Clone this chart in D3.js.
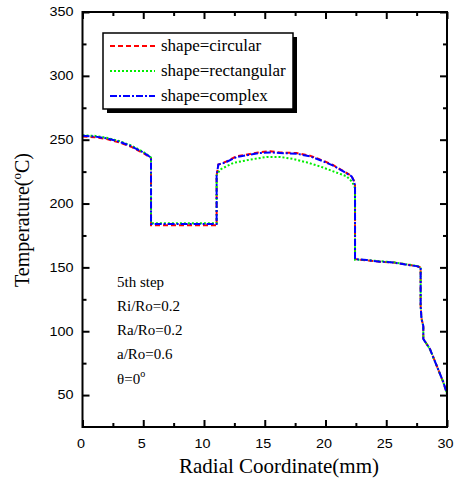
<!DOCTYPE html>
<html><head><meta charset="utf-8">
<script src="https://cdn.jsdelivr.net/npm/d3@7"></script>
<style>body{margin:0;background:#fff}svg{display:block}</style>
</head><body>
<script>
// ---- data ----
const xCircular = [0, 1, 2, 3, 4, 5, 5.64, 5.64, 8, 11.04, 11.04, 11.18, 11.73, 12.69, 13.79, 14.47, 15.43, 16.25, 17.63, 18.72, 19.82, 20.64, 21.47, 22.15, 22.35, 22.43, 22.43, 23.39, 24.49, 25.58, 26.95, 27.5, 27.83, 27.83, 27.9, 28.05, 28.05, 28.6, 29.15, 29.7, 30];
const yCircular = [252.5, 252, 250.5, 248, 244.5, 239.5, 235.5, 183, 183, 183, 222, 230.5, 232.5, 237, 238.8, 240, 241, 240, 239.5, 237.5, 233.5, 230, 225.5, 221.5, 217.5, 214, 156.5, 155.5, 154.5, 153.8, 151.8, 151, 150, 120, 110, 104, 94, 86, 73, 60, 51];
const xRectangular = [0, 1, 2, 3, 4, 5, 5.64, 5.64, 8, 11.04, 11.04, 11.32, 12.41, 13.79, 15.16, 16.25, 17.35, 18.44, 19.55, 20.64, 21.74, 22.2, 22.43, 22.43, 23.39, 24.49, 25.58, 26.95, 27.5, 27.83, 27.83, 27.9, 28.05, 28.05, 28.6, 29.15, 29.7, 30];
const yRectangular = [253.5, 253, 251.5, 249, 245.5, 240.5, 236, 184.5, 184.5, 184.5, 222, 226.6, 231.8, 234.4, 236.5, 236.5, 234.9, 232.3, 229.1, 225.2, 221.3, 217, 212, 156, 155.8, 154.8, 154, 152, 151.2, 150.2, 120, 110, 104, 94, 86, 73, 60, 51];
const xComplex = [0, 1, 2, 3, 4, 5, 5.64, 5.64, 8, 11.04, 11.04, 11.18, 11.73, 12.69, 13.79, 14.47, 15.43, 16.25, 17.63, 18.72, 19.82, 20.64, 21.47, 22.15, 22.35, 22.43, 22.43, 23.39, 24.49, 25.58, 26.95, 27.5, 27.83, 27.83, 27.9, 28.05, 28.05, 28.6, 29.15, 29.7, 30];
const yComplex = [253, 252.5, 251, 248.5, 245, 240, 236, 184, 184, 184, 222, 230.5, 232, 236.5, 238.3, 239.5, 240, 239.6, 239, 237, 233, 229.7, 225.2, 221.3, 217.4, 214, 156.5, 155.7, 154.5, 153.8, 151.6, 151, 150, 120, 110, 104, 94, 86, 73, 60, 51];
const seriesNames = ["shape=circular", "shape=rectangular", "shape=complex"];
const seriesColors = ["#ff0000", "#00ee00", "#0000ff"];
const xMajorTicks = [0, 5, 10, 15, 20, 25, 30];
const xMinorTicks = [2.5, 7.5, 12.5, 17.5, 22.5, 27.5];
const yMajorTicks = [50, 100, 150, 200, 250, 300, 350];
const yMinorTicks = [75, 125, 175, 225, 275, 325];
const annotations = ["5th step", "Ri/Ro=0.2", "Ra/Ro=0.2", "a/Ro=0.6"];

// ---- layout ----
const W = 454, H = 488;
const L = 82.5, R = 447, T = 12, B = 427;
const SX = 1.2; // horizontal stretch of tick labels
const svg = d3.select("body").append("svg").attr("width", W).attr("height", H);
const x = d3.scaleLinear().domain([0, 30]).range([L, R]);
const y = d3.scaleLinear().domain([25, 350]).range([B, T]);

// curves
const dashes = ["5,3", "2,2", "7,2,2,2"];
const xs = [xCircular, xRectangular, xComplex];
const ys = [yCircular, yRectangular, yComplex];
const line = d3.line().x(d => x(d[0])).y(d => y(d[1]));
xs.forEach((xa, i) => {
  svg.append("path").datum(xa.map((v, j) => [v, ys[i][j]]))
    .attr("d", line).attr("fill", "none").attr("stroke", seriesColors[i])
    .attr("stroke-width", 2).attr("stroke-dasharray", dashes[i]);
});

// axes
function ax(gen, tx, ty, vals, size, labels) {
  const g = svg.append("g").attr("transform", `translate(${tx},${ty})`)
    .call(gen.tickValues(vals).tickSize(-size).tickPadding(9).tickFormat(labels ? d3.format("d") : ""));
  g.select(".domain").remove();
  g.selectAll("line").attr("stroke", "#000").attr("stroke-width", 2);
  g.selectAll("text").attr("font-family", "'Liberation Sans', Arial, sans-serif").attr("font-size", 12).attr("fill", "#000");
  return g;
}
const gb = ax(d3.axisBottom(x), 0, B, xMajorTicks, 7, true);
gb.selectAll("text").attr("transform", `translate(-2,0) scale(${SX},1)`).attr("y", 12);
ax(d3.axisBottom(x), 0, B, xMinorTicks, 4, false);
ax(d3.axisTop(x), 0, T, xMajorTicks, 7, false);
ax(d3.axisTop(x), 0, T, xMinorTicks, 4, false);
const gl = ax(d3.axisLeft(y), L, 0, yMajorTicks, 7, true);
gl.selectAll("text").attr("transform", `scale(${SX},1)`).attr("x", -9 / SX);
ax(d3.axisLeft(y), L, 0, yMinorTicks, 4, false);
ax(d3.axisRight(y), R, 0, yMajorTicks, 7, false);
ax(d3.axisRight(y), R, 0, yMinorTicks, 4, false);

// frame
svg.append("rect").attr("x", L).attr("y", T).attr("width", R - L).attr("height", B - T)
  .attr("fill", "none").attr("stroke", "#000").attr("stroke-width", 2);

// axis titles
const serif = "'Liberation Serif', 'Times New Roman', serif";
svg.append("text").attr("x", 279).attr("y", 473).attr("text-anchor", "middle")
  .attr("font-family", serif).attr("font-size", 21).text("Radial Coordinate(mm)");
const yt = svg.append("text").attr("transform", "translate(29,220) rotate(-90)").attr("text-anchor", "middle")
  .attr("font-family", serif).attr("font-size", 20);
yt.append("tspan").text("Temperature(");
yt.append("tspan").attr("font-size", 13).attr("dy", -8).text("o");
yt.append("tspan").attr("dy", 8).text("C)");

// legend
svg.append("rect").attr("x", 107).attr("y", 37).attr("width", 190).attr("height", 76).attr("fill", "#000");
svg.append("rect").attr("x", 103).attr("y", 33).attr("width", 190).attr("height", 76)
  .attr("fill", "#fff").attr("stroke", "#000").attr("stroke-width", 1.5);
seriesNames.forEach((n, i) => {
  const yy = 46 + i * 25;
  svg.append("line").attr("x1", 110).attr("x2", 155).attr("y1", yy).attr("y2", yy)
    .attr("stroke", seriesColors[i]).attr("stroke-width", 2).attr("stroke-dasharray", dashes[i]);
  svg.append("text").attr("x", 161).attr("y", yy + 5).attr("font-family", serif).attr("font-size", 17).text(n);
});

// annotations
annotations.forEach((t, i) => {
  svg.append("text").attr("x", 117).attr("y", 287 + i * 24).attr("font-family", serif).attr("font-size", 15).text(t);
});
const th = svg.append("text").attr("x", 117).attr("y", 384).attr("font-family", serif).attr("font-size", 15);
th.append("tspan").text("θ=0");
th.append("tspan").attr("font-size", 10).attr("dy", -7).text("o");
</script>
</body></html>
